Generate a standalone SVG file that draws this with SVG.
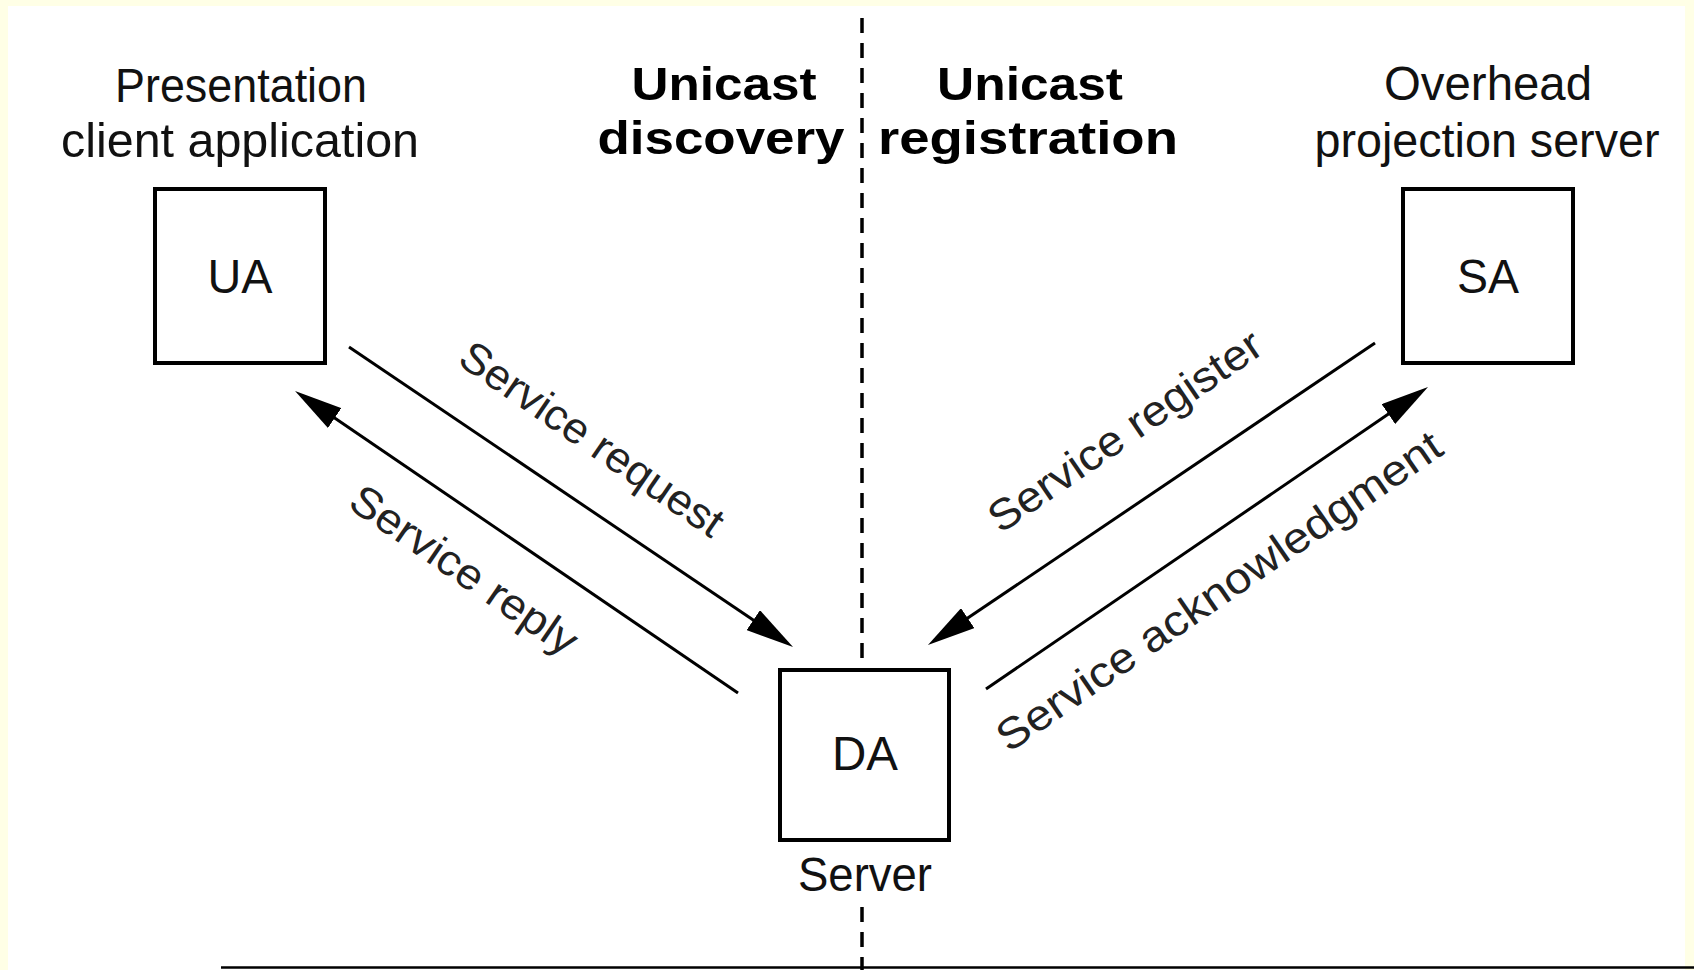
<svg xmlns="http://www.w3.org/2000/svg" width="1694" height="970" viewBox="0 0 1694 970">
  <style>
    .box { fill: #ffffff; stroke: #000000; stroke-width: 4; }
    .lbl { font-family: "Liberation Sans", Arial, sans-serif; font-size: 48px; fill: #111111; text-anchor: middle; }
    .head { font-family: "Liberation Sans", Arial, sans-serif; font-size: 46px; font-weight: bold; fill: #000000; text-anchor: middle; }
    .msg { font-family: "Liberation Sans", Arial, sans-serif; font-size: 43px; fill: #222222; text-anchor: middle; }
    .conn { stroke: #000000; stroke-width: 3; fill: none; }
    .divider { stroke: #000000; stroke-width: 3.5; stroke-dasharray: 15 10; fill: none; }
  </style>
  <defs>
    <marker id="arrow" markerUnits="userSpaceOnUse" viewBox="0 0 48 24" markerWidth="48" markerHeight="24" refX="8" refY="12" orient="auto">
      <path d="M0,0 L48,12 L0,24 Z" fill="#000000"/>
    </marker>
  </defs>

  <rect x="0" y="0" width="1694" height="970" fill="#FFFFE6"/>
  <rect x="8" y="6" width="1677" height="964" fill="#FFFFFF"/>

  <g id="headings">
    <text class="head" x="724" y="100" textLength="185" lengthAdjust="spacingAndGlyphs">Unicast</text>
    <text class="head" x="721" y="154" textLength="247" lengthAdjust="spacingAndGlyphs">discovery</text>
    <text class="head" x="1030" y="100" textLength="186" lengthAdjust="spacingAndGlyphs">Unicast</text>
    <text class="head" x="1028" y="154" textLength="300" lengthAdjust="spacingAndGlyphs">registration</text>
  </g>

  <g id="dividers">
    <line class="divider" x1="862" y1="18" x2="862" y2="668"/>
    <line class="divider" x1="862" y1="907" x2="862" y2="970"/>
    <line x1="221" y1="967.5" x2="1694" y2="967.5" stroke="#000000" stroke-width="2.5"/>
  </g>

  <g id="node-UA">
    <text class="lbl" x="241" y="102" textLength="252" lengthAdjust="spacingAndGlyphs">Presentation</text>
    <text class="lbl" x="240" y="157" textLength="358" lengthAdjust="spacingAndGlyphs">client application</text>
    <rect class="box" x="155" y="189" width="170" height="174"/>
    <text class="lbl" x="240" y="293" textLength="65" lengthAdjust="spacingAndGlyphs">UA</text>
  </g>

  <g id="node-SA">
    <text class="lbl" x="1488" y="100" textLength="208" lengthAdjust="spacingAndGlyphs">Overhead</text>
    <text class="lbl" x="1487" y="157" textLength="345" lengthAdjust="spacingAndGlyphs">projection server</text>
    <rect class="box" x="1403" y="189" width="170" height="174"/>
    <text class="lbl" x="1488" y="293" textLength="62" lengthAdjust="spacingAndGlyphs">SA</text>
  </g>

  <g id="node-DA">
    <rect class="box" x="780" y="670" width="169" height="170"/>
    <text class="lbl" x="865" y="770" textLength="66" lengthAdjust="spacingAndGlyphs">DA</text>
    <text class="lbl" x="865" y="891" textLength="134" lengthAdjust="spacingAndGlyphs">Server</text>
  </g>

  <g id="connectors">
    <line class="conn" x1="349" y1="347" x2="759.9" y2="624.6" marker-end="url(#arrow)"/>
    <line class="conn" x1="738" y1="693" x2="328.1" y2="413.5" marker-end="url(#arrow)"/>
    <line class="conn" x1="1375" y1="343" x2="961.1" y2="622.6" marker-end="url(#arrow)"/>
    <line class="conn" x1="986" y1="689" x2="1395" y2="409.6" marker-end="url(#arrow)"/>
    <g transform="translate(590 442) rotate(34.5)">
      <text class="msg" x="0" y="11" textLength="310" lengthAdjust="spacingAndGlyphs">Service request</text>
    </g>
    <g transform="translate(462 573) rotate(34.5)">
      <text class="msg" x="0" y="11" textLength="266" lengthAdjust="spacingAndGlyphs">Service reply</text>
    </g>
    <g transform="translate(1127 434) rotate(-34.5)">
      <text class="msg" x="0" y="11" textLength="322" lengthAdjust="spacingAndGlyphs">Service register</text>
    </g>
    <g transform="translate(1221 594) rotate(-34.5)">
      <text class="msg" x="0" y="11" textLength="530" lengthAdjust="spacingAndGlyphs">Service acknowledgment</text>
    </g>
  </g>
</svg>
